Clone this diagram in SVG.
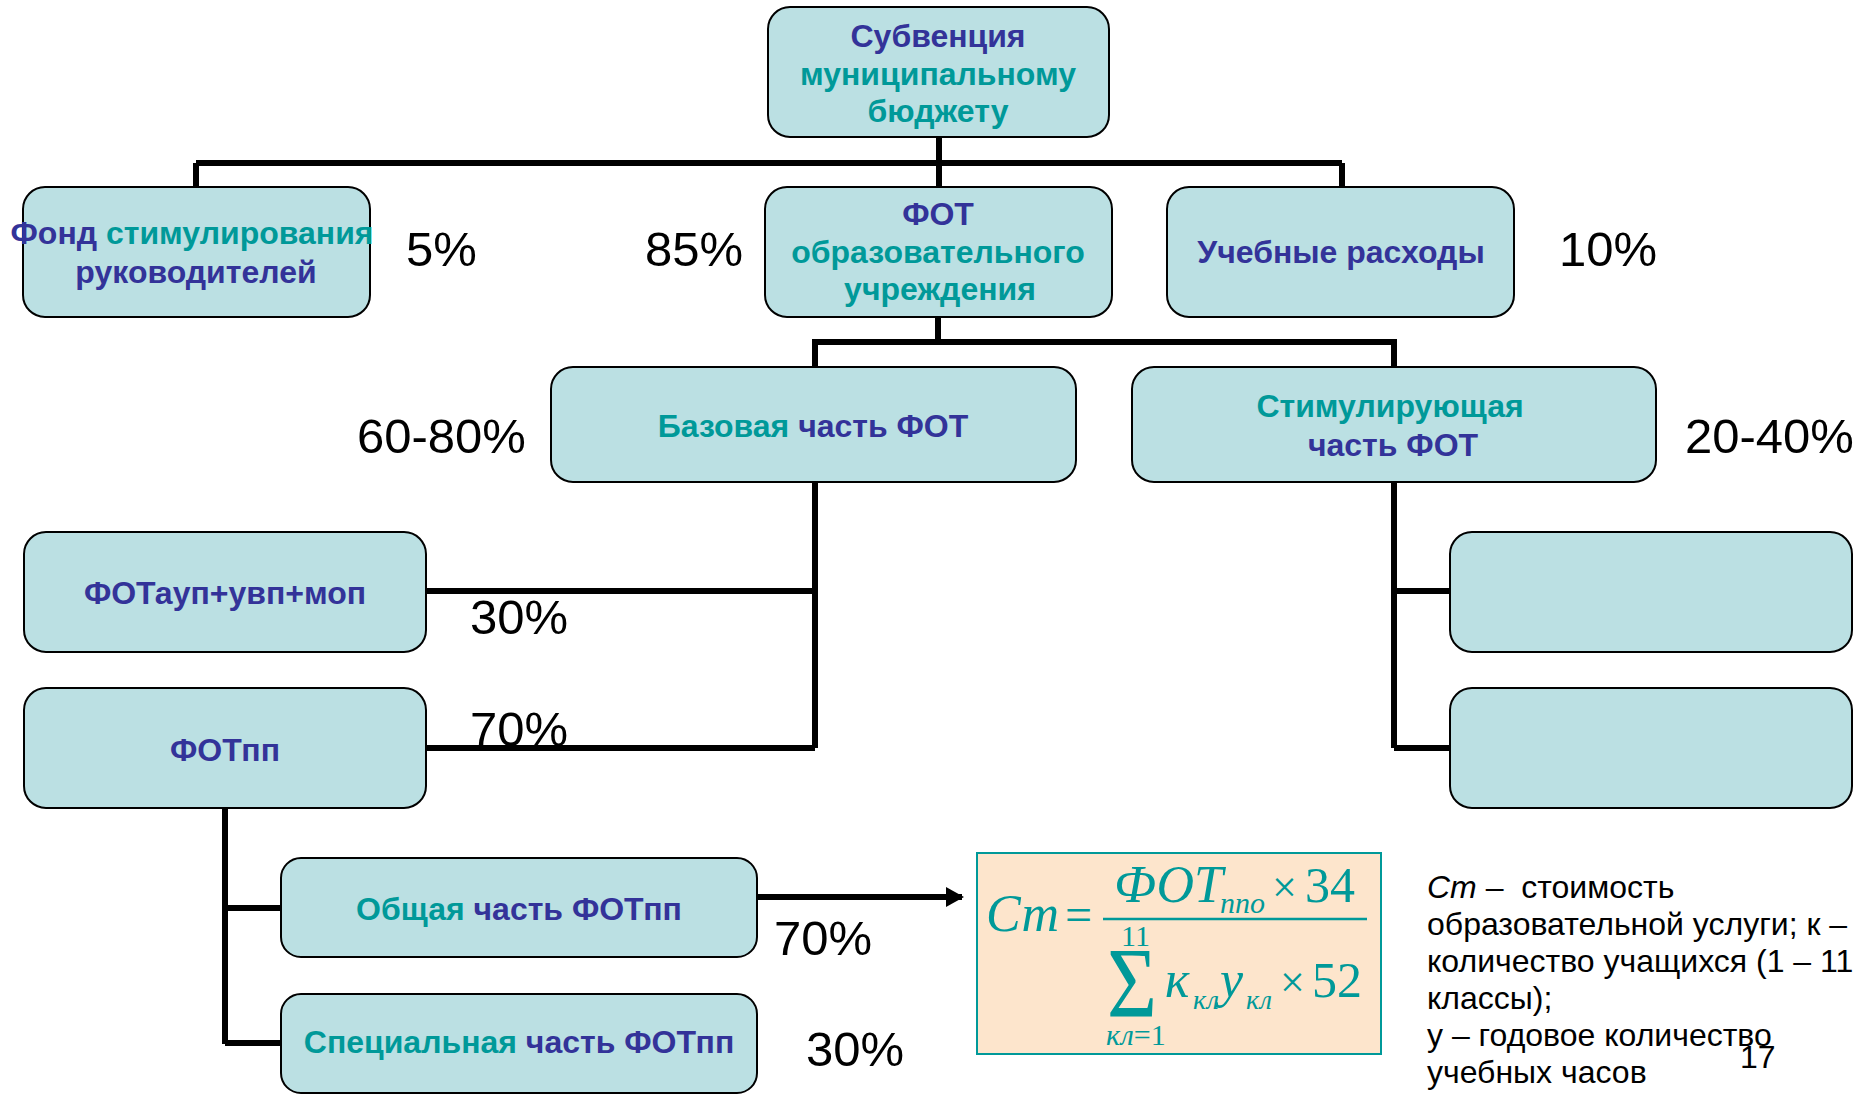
<svg xmlns="http://www.w3.org/2000/svg" width="1864" height="1094" viewBox="0 0 1864 1094">
<defs>
<style>
.box{fill:#bbe0e3;stroke:#000;stroke-width:2}
.lbl{font-family:"Liberation Sans",Arial,sans-serif;font-weight:bold;font-size:32px;text-anchor:middle}
.b{fill:#333399}
.t{fill:#009999}
.pct{font-family:"Liberation Sans",Arial,sans-serif;font-size:49px;fill:#000}
.con{fill:none;stroke:#000;stroke-width:6}
.note{font-family:"Liberation Sans",Arial,sans-serif;font-size:32px;fill:#000}
.f{font-family:"Liberation Serif","Times New Roman",serif;fill:#009999}
.fi{font-style:italic}
</style>
<marker id="arr" markerUnits="userSpaceOnUse" markerWidth="18" markerHeight="20" refX="16" refY="10" orient="auto">
<path d="M0,0 L18,10 L0,20 Z" fill="#000"/>
</marker>
</defs>
<rect width="1864" height="1094" fill="#fff"/>

<g id="connectors">
<path class="con" d="M939,137 V163 M196,163 H1342 M196,163 V188 M939,163 V188 M1342,163 V188"/>
<path class="con" d="M938,317 V342 M812,342 H1397 M815,342 V367 M1394,342 V367"/>
<path class="con" d="M815,481 V748 M426,591 H815 M426,748 H815"/>
<path class="con" d="M1394,481 V748 M1394,591 H1450 M1394,748 H1450"/>
<path class="con" d="M225,808 V1044 M225,908 H282 M225,1043 H282"/>
<path class="con" d="M757,897 H962" stroke-width="7" marker-end="url(#arr)"/>
</g>

<g id="n-subvention">
<rect class="box" x="768" y="7" width="341" height="130" rx="22"/>
<text class="lbl" x="938" y="47"><tspan class="b">Субвенция</tspan></text>
<text class="lbl" x="938" y="85"><tspan class="t">муниципальному</tspan></text>
<text class="lbl" x="938" y="122"><tspan class="t">бюджету</tspan></text>
</g>

<g id="n-fond">
<rect class="box" x="23" y="187" width="347" height="130" rx="22"/>
<text class="lbl" x="192" y="244"><tspan class="b">Фонд </tspan><tspan class="t">стимулирования</tspan></text>
<text class="lbl" x="196" y="283"><tspan class="b">руководителей</tspan></text>
</g>
<text class="pct" x="406" y="266">5%</text>

<g id="n-fot">
<rect class="box" x="765" y="187" width="347" height="130" rx="22"/>
<text class="lbl" x="938" y="225"><tspan class="b">ФОТ</tspan></text>
<text class="lbl" x="938" y="263"><tspan class="t">образовательного</tspan></text>
<text class="lbl" x="940" y="300"><tspan class="t">учреждения</tspan></text>
</g>
<text class="pct" x="645" y="266">85%</text>

<g id="n-ucheb">
<rect class="box" x="1167" y="187" width="347" height="130" rx="22"/>
<text class="lbl" x="1341" y="263"><tspan class="b">Учебные расходы</tspan></text>
</g>
<text class="pct" x="1559" y="266">10%</text>

<g id="n-baz">
<rect class="box" x="551" y="367" width="525" height="115" rx="22"/>
<text class="lbl" x="813" y="437"><tspan class="t">Базовая </tspan><tspan class="b">часть ФОТ</tspan></text>
</g>
<text class="pct" x="357" y="453">60-80%</text>

<g id="n-stim">
<rect class="box" x="1132" y="367" width="524" height="115" rx="22"/>
<text class="lbl" x="1390" y="417"><tspan class="t">Стимулирующая</tspan></text>
<text class="lbl" x="1393" y="456"><tspan class="b">часть ФОТ</tspan></text>
</g>
<text class="pct" x="1685" y="453">20-40%</text>

<g id="n-aup">
<rect class="box" x="24" y="532" width="402" height="120" rx="22"/>
<text class="lbl" x="225" y="604"><tspan class="b">ФОТауп+увп+моп</tspan></text>
</g>
<text class="pct" x="470" y="634">30%</text>

<g id="n-pp">
<rect class="box" x="24" y="688" width="402" height="120" rx="22"/>
<text class="lbl" x="225" y="761"><tspan class="b">ФОТпп</tspan></text>
</g>
<text class="pct" x="470" y="746">70%</text>

<g id="n-r1">
<rect class="box" x="1450" y="532" width="402" height="120" rx="22"/>
</g>
<g id="n-r2">
<rect class="box" x="1450" y="688" width="402" height="120" rx="22"/>
</g>

<g id="n-obsh">
<rect class="box" x="281" y="858" width="476" height="99" rx="20"/>
<text class="lbl" x="519" y="920"><tspan class="t">Общая </tspan><tspan class="b">часть ФОТпп</tspan></text>
</g>
<text class="pct" x="774" y="955">70%</text>

<g id="n-spec">
<rect class="box" x="281" y="994" width="476" height="99" rx="20"/>
<text class="lbl" x="519" y="1053"><tspan class="t">Специальная </tspan><tspan class="b">часть ФОТпп</tspan></text>
</g>
<text class="pct" x="806" y="1066">30%</text>

<g id="n-formula">
<rect x="977" y="853" width="404" height="201" fill="#fde5cc" stroke="#009999" stroke-width="2"/>
<text class="f fi" x="986" y="931" font-size="52">Ст</text>
<text class="f" x="1065" y="931" font-size="48">=</text>
<line x1="1103" y1="919" x2="1367" y2="919" stroke="#009999" stroke-width="2.5"/>
<text class="f fi" x="1114" y="902" font-size="52">ФОТ</text>
<text class="f fi" x="1220" y="913" font-size="30">ппо</text>
<text class="f" x="1272" y="902" font-size="44">×</text>
<text class="f" x="1305" y="902" font-size="50">34</text>
<text class="f" x="1121" y="946" font-size="30">11</text>
<text class="f" x="1107" y="1016" font-size="100" textLength="50" lengthAdjust="spacingAndGlyphs">Σ</text>
<text class="f fi" x="1165" y="997" font-size="52">к</text>
<text class="f fi" x="1193" y="1009" font-size="28">кл</text>
<text class="f fi" x="1220" y="997" font-size="52">у</text>
<text class="f fi" x="1246" y="1009" font-size="28">кл</text>
<text class="f" x="1280" y="997" font-size="44">×</text>
<text class="f" x="1312" y="997" font-size="50">52</text>
<text class="f" x="1106" y="1045" font-size="30"><tspan class="fi">кл</tspan>=1</text>
</g>

<g id="note">
<text class="note" x="1427" y="898"><tspan font-style="italic">Ст</tspan> –&#160; стоимость</text>
<text class="note" x="1427" y="935">образовательной услуги; к –</text>
<text class="note" x="1427" y="972">количество учащихся (1 – 11</text>
<text class="note" x="1427" y="1009">классы);</text>
<text class="note" x="1427" y="1046">у – годовое количество</text>
<text class="note" x="1427" y="1083">учебных часов</text>
<text class="note" x="1740" y="1068" font-size="40">17</text>
</g>
</svg>
